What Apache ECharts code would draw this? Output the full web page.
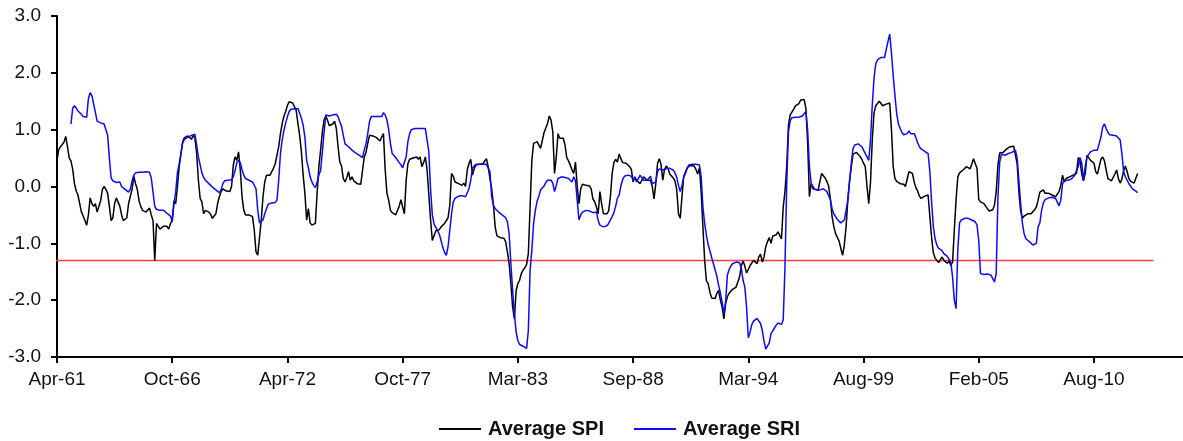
<!DOCTYPE html>
<html>
<head>
<meta charset="utf-8">
<title>Average SPI / SRI</title>
<script src="https://cdn.jsdelivr.net/npm/echarts/dist/echarts.min.js"></script>
<style>
  html, body { margin: 0; padding: 0; background: #fff; }
  #chart { width: 1183px; height: 441px; }
</style>
</head>
<body>
<div id="chart"></div>
<script>
// labels under every 66th month, counted from Apr-61
const tickLabels = ['Apr-61', 'Oct-66', 'Apr-72', 'Oct-77', 'Mar-83', 'Sep-88', 'Mar-94', 'Aug-99', 'Feb-05', 'Aug-10']

// monthly values from Apr-61 (month 0)
const spi = [
  0.46, 0.65, 0.7, 0.74, 0.78, 0.88, 0.7, 0.5, 0.45, 0.3, 0.05, -0.08,
  -0.15, -0.3, -0.45, -0.52, -0.6, -0.68, -0.5, -0.2, -0.3, -0.35, -0.3, -0.45,
  -0.42, -0.25, -0.05, 0.0, -0.05, -0.12, -0.35, -0.6, -0.55, -0.3, -0.2, -0.2,
  -0.35, -0.5, -0.6, -0.6, -0.55, -0.3, -0.3, -0.05, 0.18, 0.05, -0.05, -0.25,
  -0.35, -0.42, -0.45, -0.45, -0.43, -0.38, -0.5, -0.6, -1.3, -0.65, -0.7, -0.75,
  -0.75, -0.7, -0.72, -0.7, -0.75, -0.65, -0.6, -0.25, -0.3, 0.0, 0.35, 0.58,
  0.79, 0.86, 0.87, 0.89, 0.9, 0.83, 0.9, 0.85, 0.58, 0.11, -0.21, -0.27,
  -0.48, -0.42, -0.43, -0.45, -0.49, -0.56, -0.59, -0.48, -0.3, -0.18, -0.09, -0.04,
  -0.02, -0.08, -0.09, -0.09, 0.0, 0.38, 0.52, 0.46, 0.61, 0.29, -0.18, -0.42,
  -0.5, -0.53, -0.5, -0.49, -0.53, -0.77, -1.15, -1.21, -1.23, -0.59, -0.18, 0.08,
  0.2, 0.23, 0.2, 0.17, 0.32, 0.4, 0.55, 0.7, 0.93, 1.11, 1.24, 1.32,
  1.43, 1.49, 1.46, 1.47, 1.45, 1.34, 1.11, 0.9, 0.61, 0.2, -0.12, -0.59,
  -0.39, -0.64, -0.68, -0.68, -0.65, -0.12, 0.35, 0.64, 0.96, 1.17, 1.24, 1.16,
  1.07, 1.06, 1.1, 1.15, 1.02, 0.7, 0.43, 0.36, 0.14, 0.08, 0.16, 0.26,
  0.11, 0.17, 0.1, 0.08, 0.05, 0.05, 0.04, 0.02, 0.52, 0.6, 0.76, 0.9,
  0.92, 0.89, 0.87, 0.86, 0.83, 0.8, 0.87, 0.93, 0.29, -0.12, -0.24, -0.42,
  -0.46, -0.49, -0.5, -0.48, -0.35, -0.23, -0.36, -0.48, 0.11, 0.4, 0.48, 0.51,
  0.5, 0.49, 0.52, 0.48, 0.52, 0.35, 0.42, 0.52, 0.29, -0.15, -0.59, -0.95,
  -0.92, -0.78, -0.77, -0.76, -0.71, -0.7, -0.65, -0.62, -0.55, -0.33, 0.23, 0.18,
  0.08, 0.05, 0.05, 0.04, 0.02, 0.06, 0.0, 0.29, 0.41, 0.48, 0.2, 0.32,
  0.38, 0.39, 0.39, 0.39, 0.4, 0.42, 0.49, 0.35, 0.14, -0.04, -0.33, -0.71,
  -0.87, -0.9, -0.9, -0.9, -0.91, -0.97, -1.15, -1.36, -1.71, -2.12, -2.33, -1.83,
  -1.71, -1.65, -1.53, -1.47, -1.43, -1.37, -1.18, -0.36, 0.46, 0.76, 0.77, 0.79,
  0.76, 0.67, 0.7, 0.95, 0.95, 1.11, 1.24, 1.17, 0.96, 0.23, 0.52, 0.93,
  0.85, 0.87, 0.85, 0.73, 0.51, 0.45, 0.38, 0.29, 0.23, 0.43, 0.0, -0.3,
  -0.04, 0.04, 0.02, 0.02, 0.0, 0.01, -0.04, -0.22, -0.27, -0.36, -0.48, -0.09,
  -0.31, -0.48, -0.48, -0.48, -0.43, -0.18, 0.23, 0.42, 0.48, 0.43, 0.57, 0.49,
  0.42, 0.45, 0.41, 0.43, 0.35, 0.3, 0.08, 0.17, 0.11, 0.14, 0.05, 0.08,
  0.17, 0.14, 0.11, 0.13, 0.11, 0.0, -0.22, 0.05, 0.4, 0.49, 0.39, 0.11,
  0.3, 0.36, 0.32, 0.22, 0.19, 0.15, 0.1, -0.06, -0.48, -0.56, -0.18, 0.18,
  0.2, 0.33, 0.36, 0.37, 0.36, 0.36, 0.3, 0.22, 0.33, -0.09, -0.71, -1.3,
  -1.66, -1.71, -1.86, -1.96, -1.94, -1.97, -1.88, -1.83, -2.0, -2.12, -2.33, -2.06,
  -1.94, -1.88, -1.86, -1.81, -1.79, -1.77, -1.74, -1.59, -1.39, -1.31, -1.4, -1.52,
  -1.46, -1.39, -1.37, -1.3, -1.33, -1.36, -1.24, -1.19, -1.33, -1.24, -1.06, -0.97,
  -0.9, -1.0, -0.87, -0.89, -0.85, -0.8, -0.8, -0.92, -0.36, -0.09, 0.35, 1.08,
  1.26, 1.29, 1.36, 1.42, 1.4, 1.46, 1.52, 1.5, 1.53, 1.37, 0.76, -0.18,
  0.05, 0.02, -0.05, -0.06, -0.06, -0.04, 0.23, 0.23, 0.15, 0.09, 0.01, -0.22,
  -0.53, -0.71, -0.83, -0.86, -0.96, -1.09, -1.21, -1.03, -0.71, -0.24, 0.11, 0.35,
  0.57, 0.59, 0.6, 0.59, 0.53, 0.48, 0.41, 0.35, 0.0, -0.3, 0.08, 0.82,
  1.29, 1.42, 1.46, 1.5, 1.5, 1.42, 1.4, 1.45, 1.43, 1.47, 1.0, 0.35,
  0.14, 0.09, 0.06, 0.05, 0.04, 0.04, 0.0, 0.02, 0.26, 0.23, 0.23, 0.08,
  -0.02, -0.08, -0.17, -0.21, -0.19, -0.17, -0.15, -0.15, -0.53, -0.9, -1.17, -1.26,
  -1.27, -1.34, -1.31, -1.24, -1.3, -1.27, -1.35, -1.31, -1.39, -1.33, -0.77, -0.24,
  0.17, 0.24, 0.26, 0.29, 0.3, 0.35, 0.32, 0.31, 0.39, 0.49, 0.49, 0.32,
  -0.23, -0.27, -0.28, -0.3, -0.35, -0.39, -0.43, -0.44, -0.41, -0.33, -0.09, 0.38,
  0.59, 0.6, 0.6, 0.63, 0.66, 0.67, 0.7, 0.71, 0.71, 0.7, 0.4, -0.1,
  -0.43, -0.56, -0.52, -0.5, -0.48, -0.45, -0.48, -0.45, -0.41, -0.36, -0.24, -0.1,
  -0.11, -0.06, -0.12, -0.11, -0.12, -0.14, -0.15, -0.14, -0.18, -0.15, -0.09, 0.02,
  0.2, 0.08, 0.14, 0.15, 0.17, 0.18, 0.2, 0.22, 0.23, 0.51, 0.45, 0.22,
  0.1, 0.23, 0.55, 0.52, 0.46, 0.43, 0.41, 0.26, 0.22, 0.2, 0.48, 0.52,
  0.45, 0.29, 0.14, 0.11, 0.1, 0.11, 0.22, 0.29, 0.14, 0.06, 0.13, 0.28,
  0.36, 0.26, 0.14, 0.09, 0.11, 0.06, 0.05, 0.23
]

// SRI starts eight months later
const sri = [
  null, null, null, null, null, null, null, null, 1.1, 1.38, 1.42, 1.38,
  1.33, 1.3, 1.27, 1.23, 1.2, 1.22, 1.55, 1.65, 1.6, 1.45, 1.3, 1.15,
  1.12, 1.12, 1.12, 1.1, 1.08, 0.9, 0.5, 0.15, 0.1, 0.09, 0.07, 0.1,
  0.08, 0.0, -0.03, -0.05, -0.08, -0.1, -0.05, 0.1, 0.2, 0.24, 0.25, 0.25,
  0.25, 0.25, 0.25, 0.26, 0.26, 0.25, 0.15, -0.1, -0.35, -0.4, -0.42, -0.42,
  -0.42, -0.42, -0.45, -0.47, -0.48, -0.52, -0.62, -0.3, -0.1, 0.25, 0.4, 0.58,
  0.77, 0.83, 0.85, 0.87, 0.88, 0.9, 0.93, 0.92, 0.73, 0.52, 0.38, 0.24,
  0.16, 0.11, 0.08, 0.05, 0.02, -0.01, -0.04, -0.06, -0.08, -0.11, -0.06, 0.05,
  0.1, 0.11, 0.11, 0.11, 0.12, 0.17, 0.28, 0.42, 0.46, 0.42, 0.29, 0.2,
  0.14, 0.12, 0.11, 0.09, 0.08, 0.05, -0.04, -0.42, -0.64, -0.64, -0.59, -0.48,
  -0.39, -0.31, -0.29, -0.29, -0.29, -0.28, -0.24, 0.11, 0.58, 0.82, 0.99, 1.12,
  1.23, 1.32, 1.36, 1.37, 1.37, 1.39, 1.37, 1.29, 1.2, 1.08, 0.87, 0.46,
  0.33, 0.17, 0.08, 0.02, -0.02, 0.08, 0.2, 0.28, 0.61, 0.96, 1.26, 1.23,
  1.24, 1.26, 1.26, 1.27, 1.27, 1.23, 1.14, 1.06, 0.9, 0.75, 0.72, 0.7,
  0.67, 0.64, 0.61, 0.59, 0.57, 0.55, 0.54, 0.51, 0.64, 0.75, 0.93, 1.14,
  1.23, 1.23, 1.23, 1.23, 1.23, 1.24, 1.23, 1.3, 1.26, 1.17, 1.0, 0.76,
  0.58, 0.55, 0.51, 0.48, 0.42, 0.38, 0.33, 0.3, 0.52, 0.79, 0.93, 1.0,
  1.02, 1.02, 1.02, 1.02, 1.02, 1.02, 1.02, 1.02, 1.0, 0.61, -0.06, -0.5,
  -0.66, -0.72, -0.78, -0.84, -0.95, -1.07, -1.16, -1.21, -1.06, -0.77, -0.48, -0.27,
  -0.21, -0.19, -0.17, -0.15, -0.16, -0.16, -0.18, -0.11, -0.04, 0.11, 0.33, 0.36,
  0.39, 0.39, 0.39, 0.39, 0.39, 0.39, 0.39, 0.36, 0.26, -0.18, -0.33, -0.39,
  -0.42, -0.45, -0.48, -0.5, -0.52, -0.55, -0.62, -0.83, -1.36, -1.83, -2.24, -2.56,
  -2.71, -2.78, -2.8, -2.81, -2.82, -2.85, -2.53, -1.47, -1.12, -0.65, -0.42, -0.26,
  -0.17, -0.06, -0.04, 0.01, 0.07, 0.11, 0.12, 0.11, 0.06, -0.09, 0.02, 0.14,
  0.15, 0.17, 0.19, 0.16, 0.15, 0.14, 0.11, 0.08, 0.17, 0.1, -0.24, -0.59,
  -0.5, -0.45, -0.42, -0.42, -0.42, -0.43, -0.44, -0.46, -0.49, -0.45, -0.6, -0.68,
  -0.68, -0.71, -0.7, -0.69, -0.65, -0.62, -0.53, -0.46, -0.35, -0.21, -0.15, 0.01,
  0.12, 0.18, 0.2, 0.2, 0.2, 0.18, 0.12, 0.16, 0.08, 0.14, 0.2, 0.19,
  0.11, 0.08, 0.11, 0.12, 0.18, 0.05, 0.02, 0.08, 0.26, 0.31, 0.29, 0.29,
  0.31, 0.31, 0.31, 0.32, 0.32, 0.29, 0.24, 0.16, 0.02, -0.09, 0.02, 0.16,
  0.23, 0.32, 0.38, 0.39, 0.39, 0.39, 0.39, 0.39, 0.38, 0.17, -0.36, -0.65,
  -0.86, -1.02, -1.13, -1.25, -1.36, -1.47, -1.58, -1.74, -1.87, -2.03, -2.24, -2.03,
  -1.56, -1.46, -1.4, -1.36, -1.34, -1.33, -1.33, -1.34, -1.44, -1.65, -1.77, -2.12,
  -2.66, -2.56, -2.43, -2.37, -2.34, -2.32, -2.3, -2.41, -2.53, -2.72, -2.86, -2.87,
  -2.75, -2.59, -2.54, -2.49, -2.44, -2.4, -2.38, -2.43, -2.35, -1.42, 0.05, 0.96,
  1.16, 1.21, 1.23, 1.22, 1.22, 1.22, 1.23, 1.24, 1.26, 1.32, 0.99, 0.35,
  0.06, -0.04, -0.05, -0.06, -0.06, -0.06, -0.04, -0.04, -0.06, -0.09, -0.11, -0.23,
  -0.39, -0.48, -0.53, -0.58, -0.6, -0.64, -0.66, -0.59, -0.42, -0.24, 0.08, 0.41,
  0.67, 0.73, 0.75, 0.75, 0.73, 0.7, 0.64, 0.58, 0.52, 0.46, 0.82, 1.43,
  1.9, 2.16, 2.23, 2.26, 2.27, 2.27, 2.27, 2.3, 2.55, 2.68, 2.35, 1.95,
  1.6, 1.28, 1.1, 1.02, 0.95, 0.91, 0.9, 0.93, 0.98, 0.93, 0.9, 0.93,
  0.86, 0.77, 0.7, 0.66, 0.63, 0.62, 0.6, 0.58, 0.26, -0.27, -0.71, -0.92,
  -1.03, -1.09, -1.11, -1.13, -1.18, -1.21, -1.23, -1.24, -1.33, -1.59, -2.0, -2.15,
  -1.12, -0.64, -0.59, -0.58, -0.56, -0.56, -0.56, -0.58, -0.59, -0.6, -0.62, -0.68,
  -0.95, -1.53, -1.56, -1.55, -1.54, -1.54, -1.53, -1.56, -1.59, -1.68, -1.53, -0.18,
  0.43, 0.57, 0.57, 0.55, 0.57, 0.58, 0.59, 0.6, 0.61, 0.64, 0.5, 0.1,
  -0.3, -0.65, -0.83, -0.92, -0.95, -0.97, -1.0, -1.03, -1.03, -1.0, -0.71, -0.64,
  -0.42, -0.29, -0.23, -0.21, -0.2, -0.18, -0.19, -0.18, -0.21, -0.24, -0.34, -0.24,
  0.05, 0.1, 0.11, 0.11, 0.12, 0.13, 0.15, 0.2, 0.28, 0.35, 0.51, 0.41,
  0.11, 0.35, 0.52, 0.55, 0.61, 0.64, 0.64, 0.64, 0.64, 0.65, 0.87, 1.05,
  1.1, 1.02, 0.95, 0.91, 0.9, 0.9, 0.9, 0.89, 0.87, 0.82, 0.58, 0.26,
  0.17, 0.11, 0.05, 0.01, -0.04, -0.06, -0.08, -0.11
]

// drought threshold line
const threshold = -1.3
const thresholdRange = [-4, 628]

const font = 'Liberation Sans, Arial, sans-serif'

const chart = echarts.init(document.getElementById('chart'))

const toPoints = arr => arr.map((v, i) => [i, v])

const option = {
  animation: false,
  textStyle: { fontFamily: font },
  grid: { left: 57, right: 0, top: 16, bottom: 84, containLabel: false },
  legend: {
    data: ['Average SPI', 'Average SRI'],
    left: 434,
    top: 414,
    icon: 'rect',
    itemWidth: 42,
    itemHeight: 2,
    itemGap: 30,
    textStyle: { fontFamily: font, fontSize: 20, fontWeight: 'bold', color: '#111', padding: [0, 0, 0, 2] }
  },
  xAxis: {
    type: 'value',
    min: 0,
    max: 645,
    interval: 66,
    splitLine: { show: false },
    axisLine: { onZero: false, lineStyle: { color: '#000', width: 2 } },
    axisTick: { show: true, length: 6, lineStyle: { color: '#000', width: 2 } },
    axisLabel: {
      fontFamily: font,
      fontSize: 19,
      color: '#111',
      margin: 13,
      showMaxLabel: false,
      formatter: v => (v % 66 === 0 ? tickLabels[v / 66] || '' : '')
    }
  },
  yAxis: {
    type: 'value',
    min: -3,
    max: 3,
    interval: 1,
    splitLine: { show: false },
    axisLine: { show: true, onZero: false, lineStyle: { color: '#000', width: 2 } },
    axisTick: { show: true, length: 6, lineStyle: { color: '#000', width: 2 } },
    axisLabel: {
      fontFamily: font,
      fontSize: 19,
      color: '#111',
      margin: 16,
      formatter: v => v.toFixed(1)
    }
  },
  series: [
    {
      name: 'threshold',
      type: 'line',
      clip: false,
      silent: true,
      showSymbol: false,
      data: thresholdRange.map(x => [x, threshold]),
      lineStyle: { color: '#ff3c3c', width: 1.5 }
    },
    {
      name: 'Average SPI',
      type: 'line',
      showSymbol: false,
      color: '#000000',
      data: toPoints(spi),
      lineStyle: { color: '#000000', width: 1.5 }
    },
    {
      name: 'Average SRI',
      type: 'line',
      showSymbol: false,
      connectNulls: false,
      color: '#0a0aff',
      data: toPoints(sri),
      lineStyle: { color: '#0a0aff', width: 1.5 }
    }
  ]
}

chart.setOption(option)
</script>
</body>
</html>
